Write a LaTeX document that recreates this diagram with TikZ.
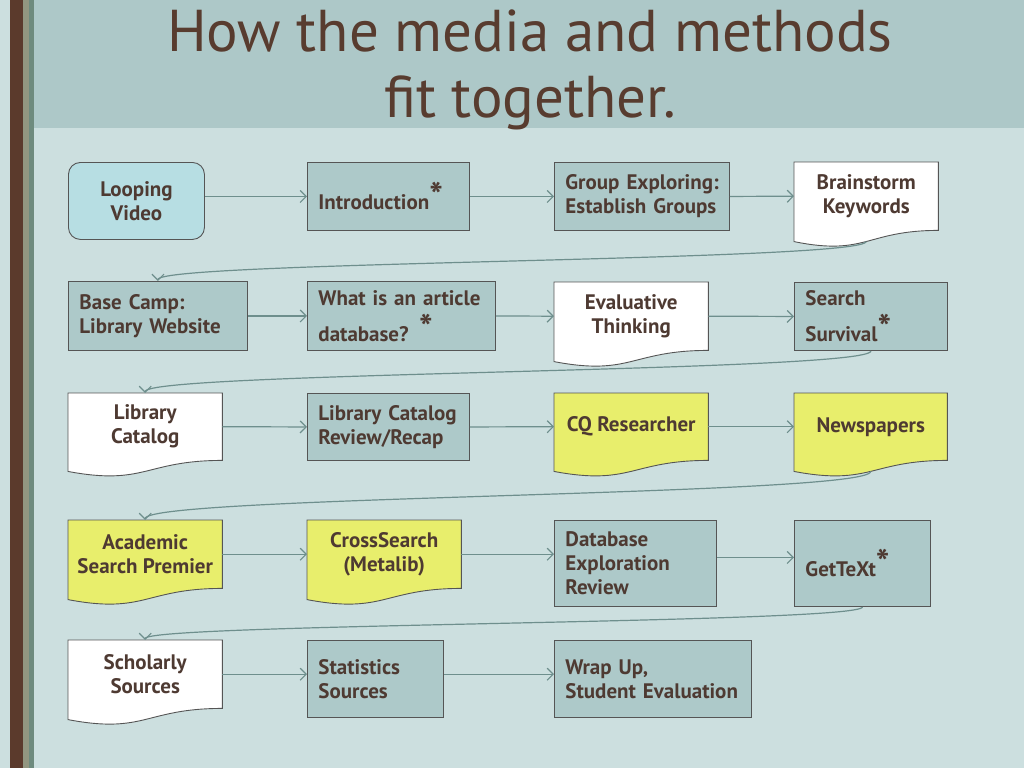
\documentclass[tikz,border=0pt]{standalone}
\usepackage{fontspec}
\setmainfont{PT Sans}
\usetikzlibrary{arrows.meta,calc,backgrounds}
\definecolor{bgc}{HTML}{CCDFDF}
\definecolor{headc}{HTML}{ADC8C8}
\definecolor{brownc}{HTML}{5B3A2C}
\definecolor{tanc}{HTML}{929680}
\definecolor{greenc}{HTML}{6E8B7E}
\definecolor{boxfill}{HTML}{ADC9C9}
\definecolor{bluefill}{HTML}{B7DEE3}
\definecolor{yellowfill}{HTML}{E8EE6C}
\definecolor{borderc}{HTML}{555555}
\definecolor{linkc}{HTML}{6E8F8D}
\definecolor{textc}{HTML}{4E3A32}
\definecolor{titlec}{HTML}{583C2F}
\newcommand\starmark{\raisebox{1pt}{\fontsize{36}{36}\selectfont\bfseries *}}
\newcommand\docshape[3]{%
  \draw[borderc, line width=0.9pt, fill=#2] (#1.north west) -- (#1.north east) -- (#1.south east)
    .. controls (#1.south) and ($(#1.south)+(0,{0.381*#3})$) .. ($(#1.south west)+(0,{0.1646*#3})$) -- cycle;}
\begin{document}
\begin{tikzpicture}[x=1pt,y=-1pt,
  boxtext/.style={text=textc, font=\fontsize{21}{24}\selectfont\bfseries},
  box/.style={boxtext, draw=borderc, line width=0.9pt, fill=boxfill, anchor=north west,
    inner xsep=11pt, inner ysep=0pt, align=left},
  docbox/.style={boxtext, anchor=north west, inner xsep=4pt, inner ysep=0pt, align=center},
  link/.style={linkc, line width=1.2pt, -{Straight Barb[length=6pt,width=12pt]}}]
\useasboundingbox (0,0) rectangle (1024,768);
% background
\begin{scope}[on background layer]
\fill[bgc] (0,0) rectangle (1024,768);
\fill[headc] (34,0) rectangle (1024,128);
\fill[brownc] (10,0) rectangle (23,768);
\fill[tanc] (23,0) rectangle (29,768);
\fill[greenc] (29,0) rectangle (34,768);
\end{scope}
% title
\node[anchor=base, text=titlec, font=\fontsize{59}{65}\selectfont, inner sep=0] (t1) at (530,52) {How the media and methods};
\node[anchor=base, text=titlec, font=\fontsize{59}{65}\selectfont, inner sep=0] (t2) at (530,117) {fit together.};
% row 1
\node[box, fill=bluefill, rounded corners=12pt, align=center, text width=114pt, minimum height=77pt] (loop) at (68,162) {Looping\\Video};
\node[box, text width=140pt, minimum height=68pt] (intro) at (307,162) {Introduction\starmark};
\node[box, text width=153pt, minimum height=68pt] (grp) at (554,162) {\mbox{Group Exploring:}\\\mbox{Establish Groups}};
\node[docbox, minimum width=144pt, minimum height=68pt] (brain) at (794,162) {Brainstorm\\Keywords};
% row 2
\node[box, text width=157pt, minimum height=69pt] (base) at (68,281) {\mbox{Base Camp:}\\\mbox{Library Website}};
\node[box, text width=166pt, minimum height=69pt] (what) at (307,281) {\mbox{What is an article}\\[7pt]database? \starmark};
\node[docbox, minimum width=154pt, minimum height=68pt] (eval) at (554,282) {Evaluative\\Thinking};
\node[box, text width=131pt, minimum height=68pt] (surv) at (794,282) {Search\\[7pt]Survival\starmark};
% row 3
\node[docbox, minimum width=154pt, minimum height=67pt] (libc) at (68,393) {Library\\Catalog};
\node[box, text width=140pt, minimum height=67pt] (rev) at (307,393) {\mbox{Library Catalog}\\Review/Recap};
\node[docbox, minimum width=154pt, minimum height=67pt] (cq) at (554,393) {CQ Researcher};
\node[docbox, minimum width=153pt, minimum height=67pt] (news) at (794,393) {Newspapers};
% row 4
\node[docbox, minimum width=154pt, minimum height=68pt] (acad) at (68,520) {Academic\\Search Premier};
\node[docbox, minimum width=154pt, minimum height=68pt] (cross) at (307,520) {CrossSearch\\(Metalib)};
\node[box, text width=140pt, minimum height=86pt] (db) at (554,520) {Database\\Exploration\\Review};
\node[box, text width=114pt, minimum height=86pt] (gt) at (794,520) {GetTeXt\starmark};
% row 5
\node[docbox, minimum width=154pt, minimum height=68pt] (sch) at (68,640) {Scholarly\\Sources};
\node[box, text width=114pt, minimum height=77pt] (stat) at (307,640) {Statistics\\Sources};
\node[box, text width=175pt, minimum height=77pt] (wrap) at (554,640) {Wrap Up,\\\mbox{Student Evaluation}};
% document shapes
\begin{scope}[on background layer]
\docshape{brain}{white}{68}
\docshape{eval}{white}{68}
\docshape{libc}{white}{67}
\docshape{cq}{yellowfill}{67}
\docshape{news}{yellowfill}{67}
\docshape{acad}{yellowfill}{68}
\docshape{cross}{yellowfill}{68}
\docshape{sch}{white}{68}
\end{scope}
% connection points
\coordinate (brain-b) at ($(brain.south)+(0,11)$);
\coordinate (news-b) at ($(news.south)+(0,11)$);
\coordinate (db-r) at ([yshift=6pt]db.east);
\coordinate (m1) at ($(brain-b)!0.5!(base.north)$);
\coordinate (m2) at ($(surv.south)!0.5!(libc.north)$);
\coordinate (m3) at ($(news-b)!0.5!(acad.north)$);
\coordinate (m4) at ($(gt.south)!0.5!(sch.north)$);
% horizontal connectors
\draw[link] (loop.east |- intro.west) -- (intro.west);
\draw[link] (intro.east) -- (grp.west);
\draw[link] (grp.east) -- (brain.west);
\draw[link] (base.east) -- (what.west);
\draw[link] (what.east) -- (eval.west);
\draw[link] (eval.east) -- (surv.west);
\draw[link] (libc.east) -- (rev.west);
\draw[link] (rev.east) -- (cq.west);
\draw[link] (cq.east) -- (news.west);
\draw[link] (acad.east) -- (cross.west);
\draw[link] (cross.east) -- (db.west |- cross.east);
\draw[link] (db-r) -- (gt.west |- db-r);
\draw[link] (sch.east) -- (stat.west |- sch.east);
\draw[link] (stat.east |- sch.east) -- (wrap.west |- sch.east);
% row-to-row curved connectors
\draw[link] (brain-b) .. controls (brain-b |- m1) and (base.north |- m1) .. (base.north);
\draw[link] (surv.south) .. controls (surv.south |- m2) and (libc.north |- m2) .. (libc.north);
\draw[link] (news-b) .. controls (news-b |- m3) and (acad.north |- m3) .. (acad.north);
\draw[link] (gt.south) .. controls (gt.south |- m4) and (sch.north |- m4) .. (sch.north);
\end{tikzpicture}
\end{document}
